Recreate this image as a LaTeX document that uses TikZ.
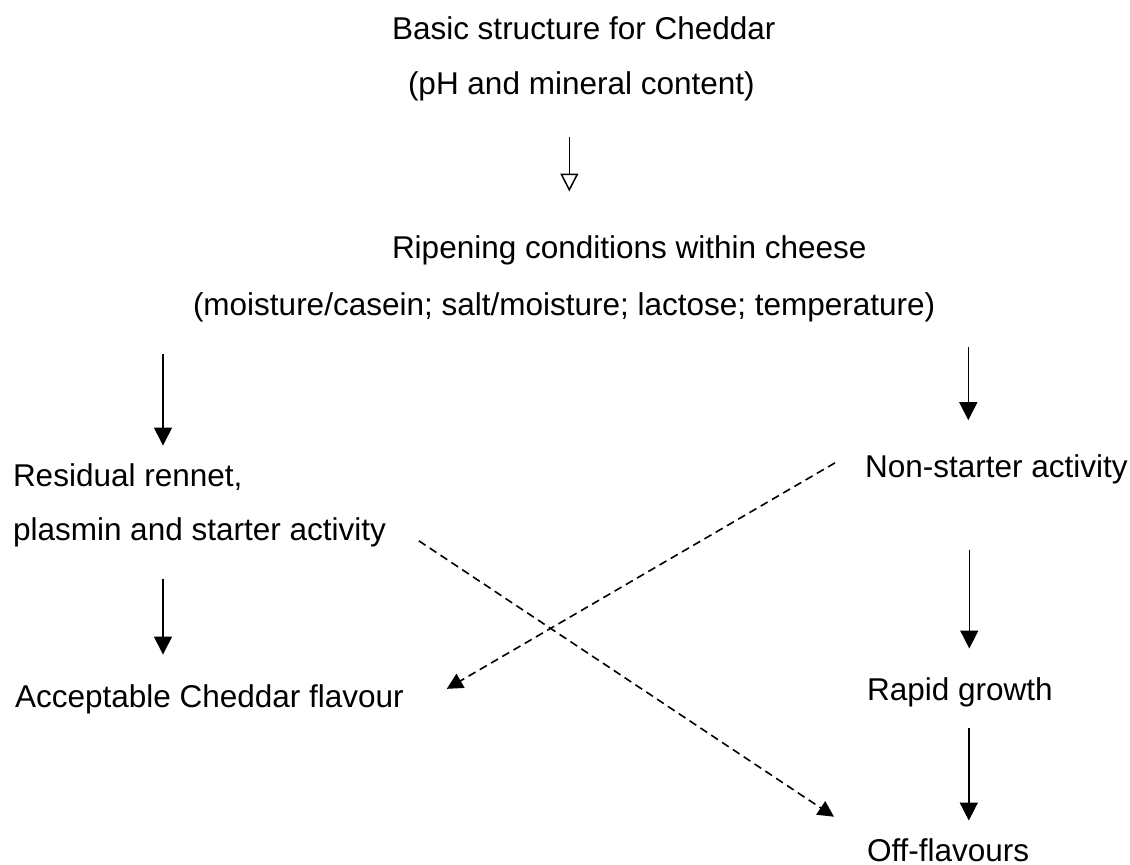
\documentclass[tikz,border=0pt]{standalone}
\usepackage{fontspec}
\setmainfont{Liberation Sans}
\usepackage{tikz}
\usetikzlibrary{arrows.meta,calc}

\begin{document}
\begin{tikzpicture}[x=.5pt,y=-.5pt,
  lbl/.style={inner sep=0pt,outer sep=0pt,anchor=base west,text=black,font=\fontsize{15.75}{18.9}\selectfont},
  arr/.style={draw=black,line width=0.75pt,-{Triangle[length=9pt,width=9pt]}},
  openarr/.style={draw=black,line width=0.75pt,-{Triangle[open,length=9pt,width=9pt]}},
  darr/.style={draw=black,line width=0.8pt,dash pattern=on 4pt off 2.5pt,-{Triangle[length=8pt,width=8pt]}}]
\path[use as bounding box] (0,0) rectangle (1130,865);
\path[fill=white,draw=none] (0,0) rectangle (1130,865);
% top block
\node[lbl] (basic) at (392,40) {Basic structure for Cheddar};
\node[lbl] (ph) at (408,95) {(pH and mineral content)};
\node[lbl] (ripen) at (392,259) {Ripening conditions within cheese};
\node[lbl] (cond) at (193,316) {(moisture/casein; salt/moisture; lactose; temperature)};
% left column
\node[lbl] (resid) at (13,487) {Residual rennet,};
\node[lbl] (plasm) at (13,541) {plasmin and starter activity};
\node[lbl] (accept) at (15,707) {Acceptable Cheddar flavour};
% right column
\node[lbl] (nonst) at (865,478) {Non-starter activity};
\node[lbl] (rapid) at (867,700) {Rapid growth};
\node[lbl] (offfl) at (867,861) {Off-flavours};
% solid arrows
\draw[openarr] ($(ph.south)+(-12,35)$) -- ++(0,55);
\draw[arr] ($(cond.south west)+(-30,31)$) -- ++(0,92);
\draw[arr] ($(nonst.north)+(-28,-108)$) -- ++(0,73);
\draw[arr] ($(plasm.south west)+(150,31)$) -- ++(0,76);
\draw[arr] ($(nonst.south)+(-27,65)$) -- ++(0,99);
\draw[arr] ($(rapid.south)+(9,21)$) -- ++(0,93);
% dashed cross arrows
\draw[darr] ($(nonst.west)+(-30,-7)$) -- ($(accept.east)+(43,-10)$);
\draw[darr] ($(plasm.east)+(33,8)$) -- ($(offfl.west)+(-33,-33)$);
\end{tikzpicture}
\end{document}
